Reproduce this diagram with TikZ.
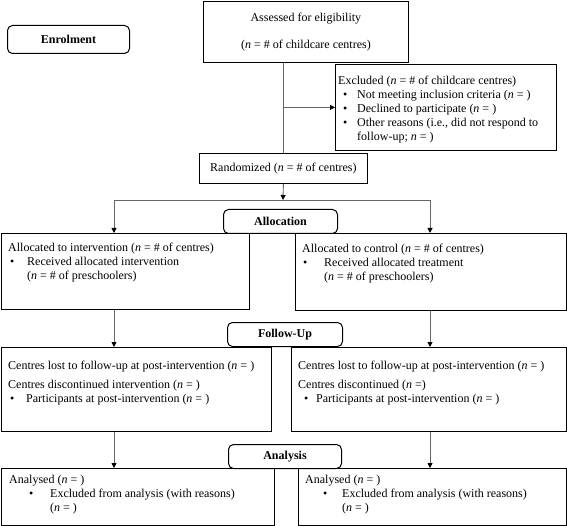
\documentclass[tikz,border=0pt]{standalone}
\usepackage{fontspec}
\setmainfont{Liberation Serif}
\usetikzlibrary{arrows.meta,positioning}
\newcommand{\blt}[2]{\hspace*{#1}\makebox[#2][l]{\textbullet}}
\newcommand{\nn}{\textit{n}}

\begin{document}
\begin{tikzpicture}[x=1pt, y=-1pt,
  font=\fontsize{12}{14}\selectfont,
  box/.style={draw, line width=0.8pt, anchor=north west, inner sep=0pt},
  stage/.style={draw, line width=1pt, rounded corners=5pt, anchor=north west,
                inner sep=0pt, font=\fontsize{12}{14}\selectfont\bfseries},
  txt/.style={anchor=north west, align=left, inner sep=0pt},
  link/.style={line width=0.9pt, draw=black!60},
  arr/.style={link, -{Triangle[length=5pt, width=5pt, color=black]}}]
\useasboundingbox (0,0) rectangle (567,526);

% stage labels
\node[stage, minimum width=122pt, minimum height=28pt] (enrol) at (7,25) {Enrolment};
\node[stage, minimum width=114pt, minimum height=24pt] (alloc) at (223,209) {Allocation};
\node[stage, minimum width=115pt, minimum height=24pt] (follow) at (227,322) {Follow-Up};
\node[stage, minimum width=113pt, minimum height=24pt] (anal) at (228,444) {Analysis};

% boxes
\node[box, minimum width=205pt, minimum height=61pt, align=center] (assess) at (203,1)
     {Assessed for eligibility\\[13pt](\nn{} = \# of childcare centres)};
\node[box, minimum width=221pt, minimum height=86pt] (excl) at (335,64) {};
\node[box, minimum width=168pt, minimum height=30pt] (rand) at (199,153)
     {Randomized (\nn{} = \# of centres)};
\node[box, minimum width=248pt, minimum height=76pt] (inter) at (1,233) {};
\node[box, minimum width=271pt, minimum height=77pt] (ctrl) at (295,233) {};
\node[box, minimum width=270pt, minimum height=84pt] (lostl) at (1,347) {};
\node[box, minimum width=275pt, minimum height=84pt] (lostr) at (291,347) {};
\node[box, minimum width=273pt, minimum height=57pt] (anl) at (1,468) {};
\node[box, minimum width=268pt, minimum height=57pt] (anr) at (298,468) {};

% box texts
\node[txt] (exclt) at (338,76) {Excluded (\nn{} = \# of childcare centres)\\
  \blt{5pt}{14pt}Not meeting inclusion criteria (\nn{} = )\\
  \blt{5pt}{14pt}Declined to participate (\nn{} = )\\
  \blt{5pt}{14pt}Other reasons (i.e., did not respond to\\
  \hspace*{19pt}follow-up; \nn{} = )};
\node[txt] (intert) at (8,243) {Allocated to intervention (\nn{} = \# of centres)\\
  \blt{2pt}{17pt}Received allocated intervention\\
  \hspace*{19pt}(\nn{} = \# of preschoolers)};
\node[txt] (ctrlt) at (302,244) {Allocated to control (\nn{} = \# of centres)\\
  \blt{1pt}{21pt}Received allocated treatment\\
  \hspace*{22pt}(\nn{} = \# of preschoolers)};
\node[txt] (lostlt) at (8,361) {Centres lost to follow-up at post-intervention (\nn{} = )\\[5pt]
  Centres discontinued intervention (\nn{} = )\\
  \blt{2pt}{16pt}Participants at post-intervention (\nn{} = )};
\node[txt] (lostrt) at (298,361) {Centres lost to follow-up at post-intervention (\nn{} = )\\[5pt]
  Centres discontinued (\nn{} =)\\
  \blt{6pt}{12pt}Participants at post-intervention (\nn{} = )};
\node[txt] (anlt) at (9,475) {Analysed (\nn{} = )\\
  \blt{20pt}{21pt}Excluded from analysis (with reasons)\\
  \hspace*{41pt}(\nn{} = )};
\node[txt] (anrt) at (305,475) {Analysed (\nn{} = )\\
  \blt{18pt}{19pt}Excluded from analysis (with reasons)\\
  \hspace*{37pt}(\nn{} = )};

% connectors
\coordinate (fork) at (283,200);
\coordinate (forkl) at (114,200);
\coordinate (forkr) at (430,200);
\draw[link] (rand.north |- assess.south) -- (rand.north);
\draw[arr] (rand.north |- excl.west) -- (excl.west);
\draw[arr] (rand.south) -- (fork);
\draw[link] (forkl) -- (forkr);
\draw[arr] (forkl) -- (forkl |- inter.north);
\draw[arr] (forkr) -- (forkr |- ctrl.north);
\draw[arr] (forkl |- inter.south) -- (forkl |- lostl.north);
\draw[arr] (forkr |- ctrl.south) -- (forkr |- lostr.north);
\draw[arr] (forkl |- lostl.south) -- (forkl |- anl.north);
\draw[arr] (forkr |- lostr.south) -- (forkr |- anr.north);
\end{tikzpicture}
\end{document}
